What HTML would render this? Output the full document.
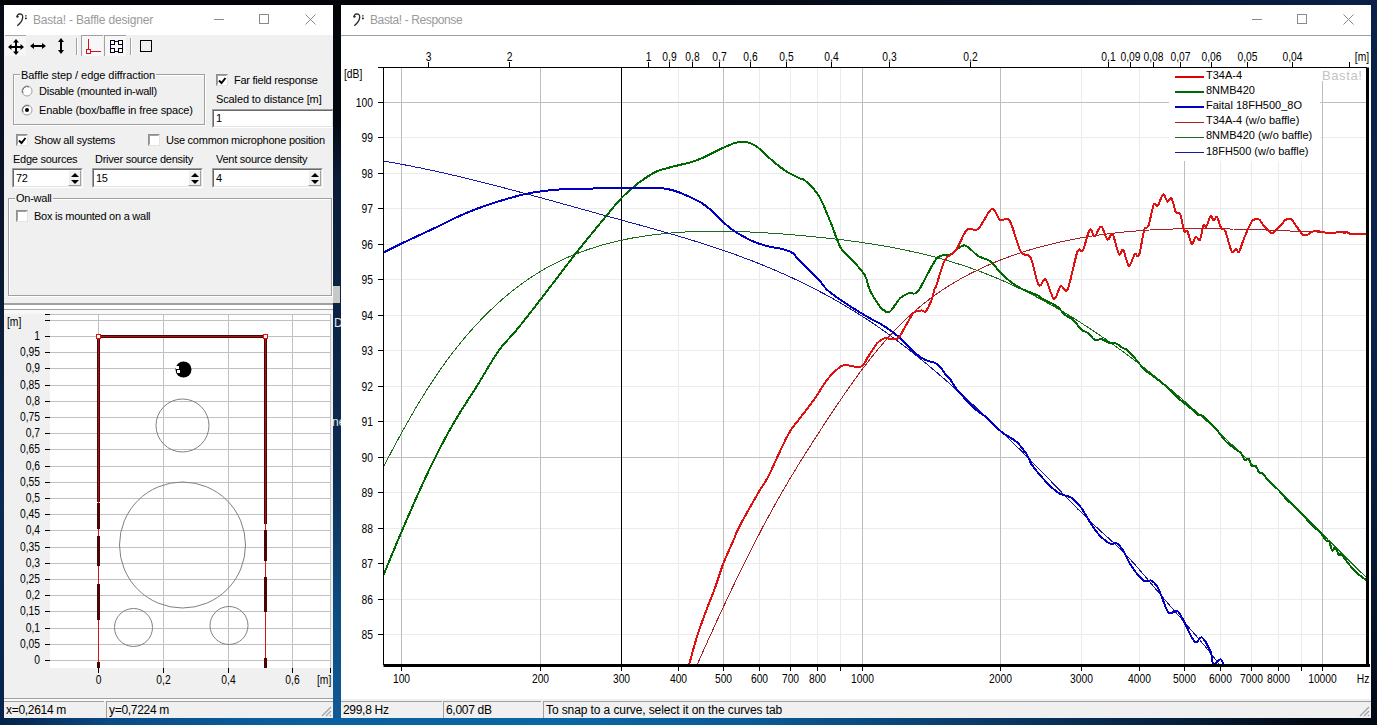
<!DOCTYPE html>
<html><head><meta charset="utf-8">
<style>
*{margin:0;padding:0;box-sizing:border-box}
html,body{width:1377px;height:725px;overflow:hidden}
body{position:relative;background:linear-gradient(90deg,#070b14 0%,#0a1a33 40%,#0b2f5c 100%);font-family:"Liberation Sans",sans-serif;font-size:11px;color:#000}
.a{position:absolute}
.t{position:absolute;white-space:nowrap;line-height:13px;letter-spacing:-0.25px}
.win{position:absolute;background:#f0f0f0}
.tb{position:absolute;background:#fff}
.ttl{position:absolute;white-space:nowrap;color:#9a9a9a;font-size:12px;line-height:14px}
.cb{position:absolute;width:12px;height:12px;background:#fff;border:1px solid #8e8f8f;border-right-color:#e3e3e3;border-bottom-color:#e3e3e3}
.cb::before{content:"";position:absolute;left:0;top:0;right:0;bottom:0;border:1px solid #696969;border-right-color:#fff;border-bottom-color:#fff;border-left-color:#a0a0a0;border-top-color:#a0a0a0}
.edit{position:absolute;background:#fff;border:1px solid #a0a0a0;border-right-color:#fff;border-bottom-color:#fff}
.edit::before{content:"";position:absolute;left:0;top:0;right:0;bottom:0;border:1px solid #696969;border-right-color:#e3e3e3;border-bottom-color:#e3e3e3}
.gb{position:absolute;border:1px solid #a0a0a0;box-shadow:1px 1px 0 #fff inset, 1px 1px 0 #fff}
.leg{position:absolute;background:#f0f0f0;padding:0 1px;white-space:nowrap;line-height:13px;letter-spacing:-0.25px}
.spin{position:absolute;width:13px;height:16px;background:#f0f0f0;border:1px solid #fdfdfd;border-right-color:#a0a0a0;border-bottom-color:#a0a0a0}.spin::before{content:"";position:absolute;left:2px;top:2px;border-left:4px solid transparent;border-right:4px solid transparent;border-bottom:4px solid #000}.spin::after{content:"";position:absolute;left:2px;top:9px;border-left:4px solid transparent;border-right:4px solid transparent;border-top:4px solid #000}
.sb{position:absolute;border-top:1px solid #a0a0a0;border-left:1px solid #a0a0a0;white-space:nowrap;line-height:15px;padding-left:2px;padding-top:1px;font-size:12px;letter-spacing:-0.3px}
</style></head><body>

<!-- DESKTOP -->
<div class="a" style="left:0;top:0;width:1377px;height:5px;background:linear-gradient(90deg,#020306 0%,#04060c 50%,#07142c 75%,#0a2048 100%)"></div>
<div class="a" style="left:0;top:5px;width:4px;height:720px;background:linear-gradient(180deg,#070b16 0%,#0a1a34 40%,#0c2a50 70%,#04244c 100%)"></div>
<div class="a" style="left:333px;top:5px;width:8px;height:713px;background:linear-gradient(180deg,#020408 0%,#04080f 16%,#0b1c38 24%,#0c2444 45%,#0c2c54 65%,#0e4c80 85%,#0f5a96 100%)"></div>
<div class="a" style="left:1371px;top:5px;width:6px;height:720px;background:linear-gradient(180deg,#0a2048 0%,#0a2450 40%,#061a36 75%,#010814 100%)"></div>
<div class="a" style="left:0;top:718px;width:1377px;height:7px;background:linear-gradient(90deg,#03224a 0%,#0a4a86 8%,#0a5e9e 20%,#0a66a6 40%,#0a5a96 55%,#0a3c6c 70%,#06203e 85%,#010814 95%,#000812 100%)"></div>
<div class="a" style="left:333px;top:286px;width:7px;height:17px;background:#c8c8c8"></div>
<div class="a" style="left:333px;top:314px;width:8px;height:125px;overflow:hidden;color:#e8e8e8;font-size:12px;line-height:14px"><div class="a" style="left:1px;top:2px">D_</div><div class="a" style="left:-1px;top:101px">ne</div></div>
<!-- /DESKTOP -->
<!-- LEFT WINDOW -->
<div class="win" style="left:4px;top:5px;width:329px;height:713px"></div>
<div class="tb" style="left:4px;top:5px;width:329px;height:30px"></div>
<svg class="a" style="left:14px;top:11px" width="14" height="16" viewBox="0 0 14 16"><path d="M3.3 6.2 Q2.8 3 5.8 2.9 Q8.9 3 8.7 6.4 Q8.4 10.5 3.3 14.8" fill="none" stroke="#2a2a2a" stroke-width="1.3"/><circle cx="3.5" cy="5.6" r="1.2" fill="#2a2a2a"/><rect x="11" y="4" width="1.6" height="1.6" fill="#666"/><rect x="11" y="6.6" width="1.8" height="1.6" fill="#222"/></svg>
<div class="ttl" style="left:33px;top:13px;letter-spacing:-0.19px">Basta! - Baffle designer</div>
<div class="a" style="left:214px;top:19px;width:10px;height:1px;background:#8a8a8a"></div>
<div class="a" style="left:259px;top:14px;width:10px;height:10px;border:1px solid #8a8a8a"></div>
<svg class="a" style="left:305px;top:14px" width="11" height="11"><path d="M0.5 0.5L10.5 10.5M10.5 0.5L0.5 10.5" stroke="#8a8a8a" stroke-width="1"/></svg>


<!-- toolbar -->
<div class="a" style="left:4px;top:35px;width:329px;height:22px;background:#f0f0f0"></div>
<div class="a" style="left:5px;top:35px;width:21px;height:21px;background:#f6f6f6;border-top:1px solid #a8a8a8"></div>
<svg class="a" style="left:7px;top:38px" width="18" height="18" viewBox="0 0 18 18"><path d="M9 3V15M3 9H15" stroke="#000" stroke-width="2"/><path d="M9 1L6 4.5H12ZM9 17L6 13.5H12ZM1 9L4.5 6V12ZM17 9L13.5 6V12Z" fill="#000"/></svg>
<svg class="a" style="left:29px;top:39px" width="18" height="14" viewBox="0 0 18 14"><path d="M3 7H15" stroke="#000" stroke-width="2"/><path d="M1 7L5 4V10ZM17 7L13 4V10Z" fill="#000"/></svg>
<svg class="a" style="left:55px;top:37px" width="12" height="18" viewBox="0 0 12 18"><path d="M6 3V15" stroke="#000" stroke-width="2"/><path d="M6 1L3 5H9ZM6 17L3 13H9Z" fill="#000"/></svg>
<div class="a" style="left:76px;top:38px;width:1px;height:17px;background:#a0a0a0"></div>
<div class="a" style="left:77px;top:38px;width:1px;height:17px;background:#fff"></div>
<div class="a" style="left:81px;top:35px;width:22px;height:21px;border-left:1px solid #a0a0a0;border-top:1px solid #a0a0a0;background:#f7f7f7"></div>
<svg class="a" style="left:84px;top:38px" width="18" height="18" viewBox="0 0 18 18" shape-rendering="crispEdges"><path d="M4.5 1V11M7 13.5H17" stroke="#d01020" stroke-width="1" fill="none"/><rect x="2.5" y="11.5" width="4" height="4" fill="none" stroke="#d01020" stroke-width="1"/></svg>
<div class="a" style="left:104px;top:35px;width:22px;height:21px;border-left:1px solid #a0a0a0;border-top:1px solid #a0a0a0;background:#f7f7f7"></div>
<svg class="a" style="left:110px;top:40px" width="13" height="13" viewBox="0 0 13 13" shape-rendering="crispEdges"><rect x="0.5" y="1.5" width="12" height="10" fill="none" stroke="#000080" stroke-width="1"/><g fill="#fff" stroke="#000" stroke-width="1"><rect x="0.5" y="0.5" width="4" height="4"/><rect x="8.5" y="0.5" width="4" height="4"/><rect x="0.5" y="8.5" width="4" height="4"/><rect x="8.5" y="8.5" width="4" height="4"/></g></svg>
<div class="a" style="left:130px;top:38px;width:1px;height:17px;background:#a0a0a0"></div>
<div class="a" style="left:131px;top:38px;width:1px;height:17px;background:#fff"></div>
<div class="a" style="left:140px;top:40px;width:12px;height:12px;border:1.3px solid #000"></div>

<!-- group baffle step -->
<div class="gb" style="left:13px;top:74px;width:192px;height:51px"></div>
<div class="leg" style="left:20px;top:69px;letter-spacing:-0.06px">Baffle step / edge diffraction</div>
<svg class="a" style="left:21px;top:85px" width="12" height="12"><circle cx="6" cy="6" r="5" fill="#fff" stroke="#a0a0a0"/><path d="M2 8A4.5 4.5 0 0 1 8 2" fill="none" stroke="#696969"/></svg>
<div class="t" style="left:39px;top:85px">Disable (mounted in-wall)</div>
<svg class="a" style="left:21px;top:104px" width="12" height="12"><circle cx="6" cy="6" r="5" fill="#fff" stroke="#a0a0a0"/><path d="M2 8A4.5 4.5 0 0 1 8 2" fill="none" stroke="#696969"/><circle cx="6" cy="6" r="2" fill="#000"/></svg>
<div class="t" style="left:39px;top:104px;letter-spacing:-0.13px">Enable (box/baffle in free space)</div>

<div class="cb" style="left:216px;top:74px"></div>
<svg class="a" style="left:218px;top:76px" width="9" height="9"><path d="M1 4.5L3.5 7L7.5 2" fill="none" stroke="#000" stroke-width="2"/></svg>
<div class="t" style="left:234px;top:74px">Far field response</div>
<div class="t" style="left:216px;top:93px;letter-spacing:-0.12px">Scaled to distance [m]</div>
<div class="edit" style="left:212px;top:109px;width:121px;height:19px;border-right:none"><span class="t" style="left:3px;top:2px">1</span></div>

<div class="cb" style="left:16px;top:134px"></div>
<svg class="a" style="left:18px;top:136px" width="9" height="9"><path d="M1 4.5L3.5 7L7.5 2" fill="none" stroke="#000" stroke-width="2"/></svg>
<div class="t" style="left:34px;top:134px">Show all systems</div>
<div class="cb" style="left:148px;top:134px"></div>
<div class="t" style="left:166px;top:134px">Use common microphone position</div>

<div class="t" style="left:13px;top:153px">Edge sources</div>
<div class="t" style="left:95px;top:153px">Driver source density</div>
<div class="t" style="left:216px;top:153px">Vent source density</div>

<div class="edit" style="left:12px;top:168px;width:71px;height:20px"><span class="t" style="left:3px;top:3px">72</span></div>
<div class="spin" style="left:68px;top:170px"></div>
<div class="edit" style="left:92px;top:168px;width:111px;height:20px"><span class="t" style="left:3px;top:3px">15</span></div>
<div class="spin" style="left:188px;top:170px"></div>
<div class="edit" style="left:212px;top:168px;width:111px;height:20px"><span class="t" style="left:3px;top:3px">4</span></div>
<div class="spin" style="left:308px;top:170px"></div>

<div class="gb" style="left:8px;top:198px;width:324px;height:98px"></div>
<div class="leg" style="left:15px;top:192px">On-wall</div>
<div class="cb" style="left:16px;top:210px"></div>
<div class="t" style="left:34px;top:210px">Box is mounted on a wall</div>

<!-- splitter -->
<div class="a" style="left:4px;top:303px;width:329px;height:2px;background:#a0a0a0"></div>
<div class="a" style="left:4px;top:305px;width:329px;height:4px;background:#fff"></div>
<div class="a" style="left:4px;top:309px;width:329px;height:1px;background:#a0a0a0"></div>

<!-- LEFTPLOT -->
<svg class="a" style="left:4px;top:310px" width="329" height="390" viewBox="4 310 329 390">
<rect x="4" y="310" width="329" height="390" fill="#f0f0f0"/>
<rect x="4" y="310" width="329" height="4" fill="#f8f8f8"/>
<rect x="50" y="314" width="281" height="354" fill="#fff"/>
<path d="M50 660.5H331M50 644.5H331M50 628.5H331M50 611.5H331M50 595.5H331M50 579.5H331M50 563.5H331M50 547.5H331M50 530.5H331M50 514.5H331M50 498.5H331M50 482.5H331M50 466.5H331M50 449.5H331M50 433.5H331M50 417.5H331M50 401.5H331M50 385.5H331M50 368.5H331M50 352.5H331M50 336.5H331M50 320.5H331M50 314.5H331M330.5 314V668M330.5 314V668M98.5 314V668M163.5 314V668M228.5 314V668M292.5 314V668" stroke="#c0c0c0" stroke-width="1" shape-rendering="crispEdges"/>
<path d="M45 660.5H50M45 644.5H50M45 628.5H50M45 611.5H50M45 595.5H50M45 579.5H50M45 563.5H50M45 547.5H50M45 530.5H50M45 514.5H50M45 498.5H50M45 482.5H50M45 466.5H50M45 449.5H50M45 433.5H50M45 417.5H50M45 401.5H50M45 385.5H50M45 368.5H50M45 352.5H50M45 336.5H50M45 320.5H50M45 314.5H50M98.5 668V673M163.5 668V673M228.5 668V673M292.5 668V673M330.5 668V673" stroke="#000" stroke-width="1" shape-rendering="crispEdges"/>
<g font-family="Liberation Sans" font-size="12" fill="#000"><text transform="translate(40 664) scale(0.86 1)" text-anchor="end">0</text><text transform="translate(40 648) scale(0.86 1)" text-anchor="end">0,05</text><text transform="translate(40 632) scale(0.86 1)" text-anchor="end">0,1</text><text transform="translate(40 615) scale(0.86 1)" text-anchor="end">0,15</text><text transform="translate(40 599) scale(0.86 1)" text-anchor="end">0,2</text><text transform="translate(40 583) scale(0.86 1)" text-anchor="end">0,25</text><text transform="translate(40 567) scale(0.86 1)" text-anchor="end">0,3</text><text transform="translate(40 551) scale(0.86 1)" text-anchor="end">0,35</text><text transform="translate(40 534) scale(0.86 1)" text-anchor="end">0,4</text><text transform="translate(40 518) scale(0.86 1)" text-anchor="end">0,45</text><text transform="translate(40 502) scale(0.86 1)" text-anchor="end">0,5</text><text transform="translate(40 486) scale(0.86 1)" text-anchor="end">0,55</text><text transform="translate(40 470) scale(0.86 1)" text-anchor="end">0,6</text><text transform="translate(40 453) scale(0.86 1)" text-anchor="end">0,65</text><text transform="translate(40 437) scale(0.86 1)" text-anchor="end">0,7</text><text transform="translate(40 421) scale(0.86 1)" text-anchor="end">0,75</text><text transform="translate(40 405) scale(0.86 1)" text-anchor="end">0,8</text><text transform="translate(40 389) scale(0.86 1)" text-anchor="end">0,85</text><text transform="translate(40 372) scale(0.86 1)" text-anchor="end">0,9</text><text transform="translate(40 356) scale(0.86 1)" text-anchor="end">0,95</text><text transform="translate(40 340) scale(0.86 1)" text-anchor="end">1</text><text transform="translate(98.5 684) scale(0.86 1)" text-anchor="middle">0</text><text transform="translate(163.5 684) scale(0.86 1)" text-anchor="middle">0,2</text><text transform="translate(228.5 684) scale(0.86 1)" text-anchor="middle">0,4</text><text transform="translate(292.5 684) scale(0.86 1)" text-anchor="middle">0,6</text><text transform="translate(7 326) scale(0.86 1)">[m]</text><text transform="translate(317 684) scale(0.86 1)">[m]</text></g>
<g fill="none" stroke="#808080" stroke-width="1"><circle cx="182.5" cy="425.5" r="26.5"/><circle cx="182.5" cy="545" r="63"/><circle cx="133.5" cy="627.5" r="19"/><circle cx="229" cy="625.5" r="19"/></g>
<circle cx="183.5" cy="369.5" r="8" fill="#000"/><rect x="176" y="366" width="3" height="3" fill="#fff"/><rect x="177" y="370" width="3" height="3" fill="#fff"/>
<path d="M98.5 336.5H265.5M98.5 336.5V668M265.5 336.5V668" stroke="#d01818" stroke-width="1" fill="none" shape-rendering="crispEdges"/>
<path d="M98.5 336V502M98.5 503V529M98.5 536V566M98.5 584V620M98.5 662V668M265.5 336V524M265.5 530V561M265.5 577V612M265.5 658V668M98 336.5H266" stroke="#4a0404" stroke-width="3" fill="none" shape-rendering="crispEdges"/>
<path d="M98.5 336.5H265.5M98.5 336.5V502M265.5 336.5V524" stroke="#b01010" stroke-width="1" fill="none" shape-rendering="crispEdges"/>
<rect x="96.5" y="334.5" width="4" height="4" fill="#fff" stroke="#e01010" stroke-width="1" shape-rendering="crispEdges"/><rect x="263.5" y="334.5" width="4" height="4" fill="#fff" stroke="#e01010" stroke-width="1" shape-rendering="crispEdges"/>
</svg>
<!-- /LEFTPLOT -->
<!-- status left -->
<div class="a" style="left:4px;top:698px;width:329px;height:1px;background:#a0a0a0"></div><div class="a" style="left:4px;top:699px;width:329px;height:2px;background:#fafafa"></div><div class="sb" style="left:4px;top:701px;width:100px;height:17px;border-left:none">x=0,2614 m</div>
<div class="sb" style="left:106px;top:701px;width:227px;height:17px">y=0,7224 m</div><svg class="a" style="left:320px;top:705px" width="12" height="12"><path d="M11 2L2 11M11 6L6 11M11 10L10 11" stroke="#a0a0a0" stroke-width="1.2"/></svg>


<!-- RIGHT WINDOW -->
<div class="win" style="left:341px;top:5px;width:1030px;height:713px"></div>
<div class="tb" style="left:341px;top:5px;width:1030px;height:30px"></div>
<div class="a" style="left:341px;top:35px;width:1030px;height:1px;background:#a0a0a0"></div>
<svg class="a" style="left:351px;top:11px" width="14" height="16" viewBox="0 0 14 16"><path d="M3.3 6.2 Q2.8 3 5.8 2.9 Q8.9 3 8.7 6.4 Q8.4 10.5 3.3 14.8" fill="none" stroke="#2a2a2a" stroke-width="1.3"/><circle cx="3.5" cy="5.6" r="1.2" fill="#2a2a2a"/><rect x="11" y="4" width="1.6" height="1.6" fill="#666"/><rect x="11" y="6.6" width="1.8" height="1.6" fill="#222"/></svg>
<div class="ttl" style="left:370px;top:13px;letter-spacing:-0.38px">Basta! - Response</div>
<div class="a" style="left:1252px;top:19px;width:10px;height:1px;background:#8a8a8a"></div>
<div class="a" style="left:1297px;top:14px;width:10px;height:10px;border:1px solid #8a8a8a"></div>
<svg class="a" style="left:1343px;top:14px" width="11" height="11"><path d="M0.5 0.5L10.5 10.5M10.5 0.5L0.5 10.5" stroke="#8a8a8a" stroke-width="1"/></svg>
<div class="sb" style="left:341px;top:701px;width:101px;height:17px;border-left:none">299,8 Hz</div>
<div class="sb" style="left:443px;top:701px;width:98px;height:17px">6,007 dB</div>
<div class="sb" style="left:543px;top:701px;width:828px;height:17px;letter-spacing:-0.1px">To snap to a curve, select it on the curves tab</div><svg class="a" style="left:1358px;top:705px" width="12" height="12"><path d="M11 2L2 11M11 6L6 11M11 10L10 11" stroke="#a0a0a0" stroke-width="1.2"/></svg>

<!-- RIGHTPLOT -->
<svg class="a" style="left:341px;top:36px" width="1030" height="663" viewBox="341 36 1030 663">
<rect x="341" y="36" width="1030" height="663" fill="#fff"/>
<path d="M621.5 67.5V665M678.5 67.5V665M759.5 67.5V665M790.5 67.5V665M817.5 67.5V665M840.5 67.5V665M1081.5 67.5V665M1139.5 67.5V665M1220.5 67.5V665M1251.5 67.5V665M1278.5 67.5V665M1301.5 67.5V665M383.5 137.5H1367M383.5 173.5H1367M383.5 208.5H1367M383.5 244.5H1367M383.5 279.5H1367M383.5 315.5H1367M383.5 350.5H1367M383.5 386.5H1367M383.5 421.5H1367M383.5 492.5H1367M383.5 528.5H1367M383.5 563.5H1367M383.5 599.5H1367M383.5 634.5H1367" stroke="#ebebeb" stroke-width="1" shape-rendering="crispEdges"/>
<path d="M401.5 67.5V665M540.5 67.5V665M723.5 67.5V665M862.5 67.5V665M1000.5 67.5V665M1184.5 67.5V665M1322.5 67.5V665M383.5 102.5H1367M383.5 457.5H1367" stroke="#bdbdbd" stroke-width="1" shape-rendering="crispEdges"/>
<path d="M378 634.5H383.5M378 599.5H383.5M378 563.5H383.5M378 528.5H383.5M378 492.5H383.5M378 457.5H383.5M378 421.5H383.5M378 386.5H383.5M378 350.5H383.5M378 315.5H383.5M378 279.5H383.5M378 244.5H383.5M378 208.5H383.5M378 173.5H383.5M378 137.5H383.5M378 102.5H383.5M401.5 665V671M540.5 665V671M621.5 665V671M678.5 665V671M723.5 665V671M759.5 665V671M790.5 665V671M817.5 665V671M840.5 665V671M862.5 665V671M1000.5 665V671M1081.5 665V671M1139.5 665V671M1184.5 665V671M1220.5 665V671M1251.5 665V671M1278.5 665V671M1301.5 665V671M1322.5 665V671M428.5 67.5V62M509.5 67.5V62M648.5 67.5V62M669.5 67.5V62M692.5 67.5V62M719.5 67.5V62M750.5 67.5V62M786.5 67.5V62M831.5 67.5V62M889.5 67.5V62M970.5 67.5V62M1108.5 67.5V62M1130.5 67.5V62M1153.5 67.5V62M1180.5 67.5V62M1211.5 67.5V62M1247.5 67.5V62M1292.5 67.5V62M1349.5 67.5V62" stroke="#000" stroke-width="1" shape-rendering="crispEdges"/>
<g font-family="Liberation Sans" font-size="12" fill="#000"><text transform="translate(373 638.5) scale(0.86 1)" text-anchor="end">85</text><text transform="translate(373 603.5) scale(0.86 1)" text-anchor="end">86</text><text transform="translate(373 567.5) scale(0.86 1)" text-anchor="end">87</text><text transform="translate(373 532.5) scale(0.86 1)" text-anchor="end">88</text><text transform="translate(373 496.5) scale(0.86 1)" text-anchor="end">89</text><text transform="translate(373 461.5) scale(0.86 1)" text-anchor="end">90</text><text transform="translate(373 425.5) scale(0.86 1)" text-anchor="end">91</text><text transform="translate(373 390.5) scale(0.86 1)" text-anchor="end">92</text><text transform="translate(373 354.5) scale(0.86 1)" text-anchor="end">93</text><text transform="translate(373 319.5) scale(0.86 1)" text-anchor="end">94</text><text transform="translate(373 283.5) scale(0.86 1)" text-anchor="end">95</text><text transform="translate(373 248.5) scale(0.86 1)" text-anchor="end">96</text><text transform="translate(373 212.5) scale(0.86 1)" text-anchor="end">97</text><text transform="translate(373 177.5) scale(0.86 1)" text-anchor="end">98</text><text transform="translate(373 141.5) scale(0.86 1)" text-anchor="end">99</text><text transform="translate(373 106.5) scale(0.86 1)" text-anchor="end">100</text><text transform="translate(401.5 683) scale(0.86 1)" text-anchor="middle">100</text><text transform="translate(540.5 683) scale(0.86 1)" text-anchor="middle">200</text><text transform="translate(621.5 683) scale(0.86 1)" text-anchor="middle">300</text><text transform="translate(678.5 683) scale(0.86 1)" text-anchor="middle">400</text><text transform="translate(723.5 683) scale(0.86 1)" text-anchor="middle">500</text><text transform="translate(759.5 683) scale(0.86 1)" text-anchor="middle">600</text><text transform="translate(790.5 683) scale(0.86 1)" text-anchor="middle">700</text><text transform="translate(817.5 683) scale(0.86 1)" text-anchor="middle">800</text><text transform="translate(862.5 683) scale(0.86 1)" text-anchor="middle">1000</text><text transform="translate(1000.5 683) scale(0.86 1)" text-anchor="middle">2000</text><text transform="translate(1081.5 683) scale(0.86 1)" text-anchor="middle">3000</text><text transform="translate(1139.5 683) scale(0.86 1)" text-anchor="middle">4000</text><text transform="translate(1184.5 683) scale(0.86 1)" text-anchor="middle">5000</text><text transform="translate(1220.5 683) scale(0.86 1)" text-anchor="middle">6000</text><text transform="translate(1251.5 683) scale(0.86 1)" text-anchor="middle">7000</text><text transform="translate(1278.5 683) scale(0.86 1)" text-anchor="middle">8000</text><text transform="translate(1322.5 683) scale(0.86 1)" text-anchor="middle">10000</text><text transform="translate(1363 683) scale(0.86 1)" text-anchor="middle">Hz</text><text transform="translate(428.5 60.5) scale(0.86 1)" text-anchor="middle">3</text><text transform="translate(509.5 60.5) scale(0.86 1)" text-anchor="middle">2</text><text transform="translate(648.5 60.5) scale(0.86 1)" text-anchor="middle">1</text><text transform="translate(669.5 60.5) scale(0.86 1)" text-anchor="middle">0,9</text><text transform="translate(692.5 60.5) scale(0.86 1)" text-anchor="middle">0,8</text><text transform="translate(719.5 60.5) scale(0.86 1)" text-anchor="middle">0,7</text><text transform="translate(750.5 60.5) scale(0.86 1)" text-anchor="middle">0,6</text><text transform="translate(786.5 60.5) scale(0.86 1)" text-anchor="middle">0,5</text><text transform="translate(831.5 60.5) scale(0.86 1)" text-anchor="middle">0,4</text><text transform="translate(889.5 60.5) scale(0.86 1)" text-anchor="middle">0,3</text><text transform="translate(970.5 60.5) scale(0.86 1)" text-anchor="middle">0,2</text><text transform="translate(1108.5 60.5) scale(0.86 1)" text-anchor="middle">0,1</text><text transform="translate(1130.5 60.5) scale(0.86 1)" text-anchor="middle">0,09</text><text transform="translate(1153.5 60.5) scale(0.86 1)" text-anchor="middle">0,08</text><text transform="translate(1180.5 60.5) scale(0.86 1)" text-anchor="middle">0,07</text><text transform="translate(1211.5 60.5) scale(0.86 1)" text-anchor="middle">0,06</text><text transform="translate(1247.5 60.5) scale(0.86 1)" text-anchor="middle">0,05</text><text transform="translate(1292.5 60.5) scale(0.86 1)" text-anchor="middle">0,04</text><text transform="translate(1362 60.5) scale(0.86 1)" text-anchor="middle">[m]</text><text transform="translate(344 78) scale(0.86 1)" text-anchor="start">[dB]</text></g>
<path d="M621.5 67.5V665" stroke="#000" stroke-width="1" shape-rendering="crispEdges"/>
<clipPath id="pc"><rect x="383.5" y="67.5" width="983.5" height="597.5"/></clipPath>
<g clip-path="url(#pc)" fill="none" stroke-linejoin="round" stroke-linecap="round" shape-rendering="crispEdges">
<path d="M383.8 466.2L385.6 462.7L387.4 459.3L389.2 455.9L391.1 452.4L392.9 448.9L394.8 445.5L396.6 442.0L398.5 438.5L400.4 435.0L402.3 431.6L404.3 428.1L406.2 424.6L408.2 421.1L410.2 417.7L412.2 414.2L414.2 410.7L416.2 407.3L418.3 403.8L420.4 400.4L422.5 396.9L424.6 393.5L426.7 390.1L428.9 386.7L431.1 383.3L433.4 379.9L435.6 376.5L437.9 373.1L440.2 369.8L442.6 366.4L444.9 363.1L447.3 359.8L449.8 356.6L452.2 353.3L454.7 350.1L457.3 346.8L459.9 343.6L462.5 340.5L465.1 337.3L467.8 334.2L470.5 331.1L473.2 328.0L476.0 325.0L478.8 322.0L481.6 319.0L484.5 316.1L487.4 313.2L490.3 310.4L493.3 307.5L496.3 304.8L499.3 302.0L502.3 299.3L505.4 296.7L508.5 294.1L511.7 291.5L514.8 289.1L518.0 286.6L521.2 284.2L524.5 281.9L527.8 279.6L531.1 277.3L534.4 275.2L537.8 273.1L541.2 271.0L544.6 269.0L548.0 267.1L551.5 265.2L555.0 263.4L558.5 261.7L562.0 260.0L565.6 258.3L569.1 256.8L572.7 255.3L576.4 253.8L580.0 252.4L583.7 251.0L587.4 249.7L591.1 248.5L594.8 247.3L598.6 246.1L602.3 245.0L606.1 244.0L609.9 243.0L613.7 242.0L617.6 241.1L621.4 240.3L625.3 239.4L629.2 238.7L633.0 237.9L637.0 237.3L640.9 236.6L644.8 236.0L648.8 235.4L652.7 234.9L656.7 234.4L660.7 234.0L664.7 233.6L668.7 233.2L672.7 232.8L676.7 232.5L680.7 232.3L684.8 232.0L688.8 231.8L692.9 231.6L696.9 231.5L701.0 231.4L705.1 231.3L709.1 231.2L713.2 231.2L717.3 231.2L721.4 231.2L725.5 231.3L729.6 231.3L733.7 231.4L737.8 231.5L741.9 231.7L746.0 231.8L750.1 232.0L754.2 232.2L758.3 232.4L762.4 232.6L766.5 232.9L770.6 233.2L774.7 233.4L778.8 233.7L782.8 234.0L786.9 234.4L791.0 234.7L795.1 235.0L799.1 235.4L803.2 235.8L807.3 236.1L811.3 236.5L815.3 236.9L819.4 237.3L823.4 237.7L827.4 238.2L831.4 238.6L835.5 239.1L839.5 239.5L843.5 240.0L847.4 240.5L851.4 241.0L855.4 241.6L859.4 242.1L863.3 242.7L867.3 243.3L871.2 243.9L875.2 244.5L879.1 245.2L883.0 245.8L887.0 246.5L890.9 247.2L894.8 248.0L898.7 248.7L902.6 249.5L906.5 250.3L910.3 251.2L914.2 252.0L918.1 252.9L921.9 253.8L925.8 254.7L929.6 255.7L933.4 256.7L937.3 257.7L941.1 258.8L944.9 259.8L948.7 260.9L952.5 262.1L956.3 263.3L960.1 264.5L963.8 265.7L967.6 267.0L971.4 268.3L975.1 269.6L978.9 271.0L982.6 272.4L986.3 273.9L990.0 275.4L993.7 276.9L997.4 278.4L1001.1 280.0L1004.8 281.6L1008.5 283.3L1012.1 284.9L1015.8 286.6L1019.4 288.4L1023.1 290.1L1026.7 291.9L1030.3 293.8L1033.9 295.6L1037.5 297.5L1041.0 299.4L1044.6 301.3L1048.1 303.3L1051.7 305.2L1055.2 307.2L1058.7 309.3L1062.2 311.3L1065.7 313.4L1069.1 315.4L1072.6 317.5L1076.0 319.7L1079.4 321.8L1082.8 324.0L1086.2 326.2L1089.6 328.4L1092.9 330.6L1096.3 332.8L1099.6 335.1L1102.9 337.4L1106.3 339.6L1109.5 342.0L1112.8 344.3L1116.1 346.6L1119.3 349.0L1122.6 351.3L1125.8 353.7L1129.0 356.1L1132.2 358.6L1135.4 361.0L1138.6 363.4L1141.8 365.9L1144.9 368.4L1148.1 370.9L1151.2 373.4L1154.3 375.9L1157.5 378.4L1160.6 381.0L1163.7 383.5L1166.7 386.1L1169.8 388.7L1172.9 391.3L1175.9 393.9L1179.0 396.5L1182.0 399.1L1185.1 401.8L1188.1 404.4L1191.1 407.1L1194.1 409.7L1197.1 412.4L1200.1 415.1L1203.1 417.8L1206.1 420.5L1209.0 423.2L1212.0 425.9L1214.9 428.7L1217.9 431.4L1220.8 434.1L1223.8 436.9L1226.7 439.7L1229.6 442.4L1232.5 445.2L1235.5 448.0L1238.4 450.8L1241.3 453.5L1244.2 456.3L1247.1 459.1L1249.9 461.9L1252.8 464.8L1255.7 467.6L1258.6 470.4L1261.5 473.2L1264.3 476.0L1267.2 478.9L1270.1 481.7L1272.9 484.5L1275.8 487.4L1278.6 490.2L1281.5 493.1L1284.3 495.9L1287.2 498.8L1290.0 501.6L1292.9 504.5L1295.7 507.3L1298.5 510.2L1301.4 513.0L1304.2 515.9L1307.1 518.7L1309.9 521.6L1312.7 524.4L1315.6 527.2L1318.4 530.1L1321.3 532.9L1324.1 535.8L1326.9 538.6L1329.8 541.5L1332.6 544.3L1335.5 547.1L1338.3 549.9L1341.1 552.8L1344.0 555.6L1346.8 558.4L1349.7 561.2L1352.5 564.0L1355.4 566.8L1358.3 569.6L1361.1 572.4L1364.0 575.2L1366.9 578.0" stroke="#1c6c1c" stroke-width="1"/>
<path d="M383.5 161.0L386.9 161.6L390.3 162.2L393.6 162.8L397.0 163.4L400.4 164.1L403.8 164.7L407.2 165.3L410.6 166.0L413.9 166.7L417.3 167.4L420.7 168.0L424.0 168.7L427.4 169.5L430.7 170.2L434.1 170.9L437.5 171.6L440.8 172.4L444.2 173.1L447.5 173.9L450.8 174.7L454.2 175.4L457.5 176.2L460.9 177.0L464.2 177.8L467.5 178.6L470.9 179.4L474.2 180.3L477.5 181.1L480.8 181.9L484.2 182.7L487.5 183.6L490.8 184.4L494.1 185.3L497.4 186.2L500.8 187.0L504.1 187.9L507.4 188.8L510.7 189.6L514.0 190.5L517.3 191.4L520.6 192.3L523.9 193.2L527.3 194.1L530.6 195.0L533.9 195.9L537.2 196.8L540.5 197.7L543.8 198.6L547.1 199.5L550.4 200.4L553.7 201.3L557.0 202.3L560.3 203.2L563.6 204.1L566.9 205.0L570.2 205.9L573.5 206.8L576.9 207.8L580.2 208.7L583.5 209.6L586.8 210.5L590.1 211.4L593.4 212.4L596.7 213.3L600.0 214.2L603.3 215.1L606.6 216.0L609.9 216.9L613.3 217.8L616.6 218.7L619.9 219.6L623.2 220.6L626.5 221.5L629.8 222.4L633.1 223.3L636.5 224.2L639.8 225.1L643.1 226.0L646.4 226.9L649.7 227.9L653.0 228.8L656.3 229.7L659.6 230.7L662.9 231.6L666.2 232.5L669.5 233.5L672.8 234.5L676.1 235.4L679.4 236.4L682.7 237.4L686.0 238.4L689.3 239.4L692.5 240.4L695.8 241.4L699.1 242.4L702.3 243.5L705.6 244.5L708.9 245.6L712.1 246.6L715.4 247.7L718.6 248.8L721.9 249.9L725.1 251.0L728.3 252.2L731.6 253.3L734.8 254.4L738.0 255.6L741.2 256.8L744.4 258.0L747.6 259.2L750.8 260.4L754.0 261.6L757.2 262.9L760.4 264.2L763.6 265.4L766.7 266.7L769.9 268.1L773.0 269.4L776.2 270.7L779.3 272.1L782.5 273.5L785.6 274.9L788.7 276.3L791.9 277.7L795.0 279.2L798.1 280.7L801.2 282.1L804.3 283.6L807.4 285.2L810.4 286.7L813.5 288.3L816.6 289.9L819.6 291.5L822.7 293.1L825.7 294.7L828.7 296.3L831.7 298.0L834.7 299.7L837.7 301.4L840.7 303.1L843.7 304.9L846.6 306.6L849.6 308.4L852.5 310.2L855.4 312.0L858.3 313.8L861.2 315.6L864.1 317.5L867.0 319.4L869.9 321.3L872.7 323.2L875.5 325.1L878.4 327.1L881.2 329.0L884.0 331.0L886.8 333.0L889.5 335.0L892.3 337.0L895.0 339.1L897.8 341.1L900.5 343.2L903.2 345.2L905.9 347.3L908.6 349.4L911.3 351.6L914.0 353.7L916.7 355.8L919.3 358.0L922.0 360.1L924.6 362.3L927.3 364.5L929.9 366.7L932.5 368.9L935.1 371.1L937.7 373.3L940.3 375.6L942.9 377.8L945.5 380.0L948.1 382.3L950.7 384.6L953.2 386.8L955.8 389.1L958.4 391.4L960.9 393.7L963.5 396.0L966.0 398.3L968.5 400.6L971.1 402.9L973.6 405.2L976.1 407.5L978.6 409.9L981.2 412.2L983.7 414.6L986.2 416.9L988.7 419.3L991.2 421.6L993.6 424.0L996.1 426.4L998.6 428.8L1001.1 431.1L1003.5 433.5L1006.0 435.9L1008.5 438.3L1010.9 440.7L1013.4 443.1L1015.8 445.6L1018.3 448.0L1020.7 450.4L1023.1 452.8L1025.5 455.3L1028.0 457.7L1030.4 460.1L1032.8 462.6L1035.2 465.0L1037.6 467.5L1040.0 469.9L1042.4 472.4L1044.8 474.9L1047.2 477.3L1049.6 479.8L1052.0 482.3L1054.3 484.7L1056.7 487.2L1059.1 489.7L1061.5 492.2L1063.8 494.6L1066.2 497.1L1068.6 499.6L1071.0 502.0L1073.4 504.5L1075.8 506.9L1078.1 509.4L1080.6 511.8L1083.0 514.2L1085.4 516.6L1087.8 519.0L1090.3 521.3L1092.7 523.7L1095.2 526.0L1097.7 528.3L1100.1 530.6L1102.7 532.9L1105.2 535.2L1107.7 537.4L1110.2 539.7L1112.7 541.9L1115.2 544.2L1117.7 546.5L1120.1 548.9L1122.5 551.2L1124.9 553.7L1127.2 556.1L1129.5 558.6L1131.8 561.1L1134.1 563.6L1136.3 566.1L1138.6 568.7L1140.8 571.3L1143.0 573.9L1145.2 576.5L1147.4 579.1L1149.6 581.7L1151.8 584.3L1154.0 587.0L1156.2 589.6L1158.5 592.2L1160.7 594.9L1162.9 597.5L1165.1 600.1L1167.4 602.7L1169.6 605.3L1171.9 607.9L1174.1 610.5L1176.4 613.1L1178.7 615.7L1181.0 618.3L1183.2 620.9L1185.5 623.5L1187.8 626.1L1190.0 628.7L1192.3 631.3L1194.5 633.9L1196.8 636.5L1199.0 639.1L1201.2 641.7L1203.4 644.4L1205.6 647.0L1207.7 649.7L1209.9 652.3L1212.0 655.0L1214.1 657.7L1216.2 660.4L1218.3 663.2L1220.3 665.9L1222.4 668.7L1224.3 671.4L1226.3 674.2L1228.2 677.0L1230.1 679.9" stroke="#1818a0" stroke-width="1"/>
<path d="M696.3 666.6L697.5 663.9L698.7 661.2L699.9 658.6L701.1 655.9L702.3 653.2L703.5 650.5L704.7 647.8L705.9 645.1L707.1 642.4L708.3 639.7L709.5 637.1L710.8 634.4L712.0 631.7L713.2 629.0L714.5 626.3L715.7 623.6L716.9 620.8L718.2 618.1L719.4 615.4L720.7 612.7L721.9 610.0L723.2 607.3L724.5 604.6L725.7 601.9L727.0 599.2L728.3 596.5L729.6 593.8L730.8 591.1L732.1 588.4L733.4 585.7L734.7 583.0L736.0 580.3L737.3 577.6L738.6 574.9L739.9 572.2L741.2 569.5L742.6 566.8L743.9 564.1L745.2 561.4L746.5 558.8L747.9 556.1L749.2 553.4L750.6 550.7L751.9 548.1L753.3 545.4L754.6 542.7L756.0 540.1L757.4 537.4L758.8 534.8L760.2 532.1L761.5 529.5L762.9 526.8L764.3 524.2L765.7 521.6L767.2 519.0L768.6 516.3L770.0 513.7L771.4 511.1L772.9 508.5L774.3 505.9L775.7 503.3L777.2 500.8L778.6 498.2L780.1 495.6L781.6 493.0L783.1 490.5L784.5 487.9L786.0 485.4L787.5 482.9L789.0 480.3L790.5 477.8L792.0 475.3L793.6 472.8L795.1 470.3L796.6 467.7L798.1 465.2L799.7 462.7L801.2 460.2L802.8 457.7L804.4 455.3L805.9 452.8L807.5 450.3L809.1 447.8L810.7 445.3L812.2 442.8L813.8 440.3L815.4 437.8L817.1 435.3L818.7 432.9L820.3 430.4L821.9 427.9L823.5 425.4L825.2 422.9L826.8 420.4L828.5 417.9L830.1 415.4L831.8 412.9L833.4 410.4L835.1 407.9L836.8 405.4L838.5 402.9L840.2 400.4L841.9 397.9L843.6 395.4L845.3 392.9L847.0 390.4L848.8 387.9L850.5 385.4L852.3 383.0L854.0 380.5L855.8 378.0L857.6 375.6L859.4 373.1L861.2 370.7L863.0 368.3L864.9 365.9L866.7 363.5L868.6 361.1L870.4 358.7L872.3 356.3L874.2 354.0L876.1 351.6L878.0 349.3L880.0 347.0L881.9 344.7L883.9 342.4L885.9 340.2L887.9 337.9L889.9 335.7L891.9 333.5L894.0 331.3L896.0 329.1L898.1 327.0L900.2 324.9L902.3 322.8L904.4 320.7L906.6 318.6L908.7 316.6L910.9 314.6L913.1 312.6L915.3 310.7L917.6 308.7L919.8 306.8L922.1 305.0L924.4 303.1L926.7 301.3L929.0 299.5L931.4 297.7L933.8 296.0L936.2 294.3L938.6 292.6L941.0 290.9L943.4 289.3L945.9 287.7L948.4 286.1L950.9 284.6L953.4 283.1L955.9 281.6L958.5 280.1L961.0 278.6L963.6 277.2L966.2 275.8L968.8 274.4L971.4 273.1L974.0 271.8L976.7 270.5L979.3 269.2L982.0 267.9L984.7 266.7L987.4 265.5L990.1 264.3L992.8 263.2L995.5 262.0L998.3 260.9L1001.0 259.8L1003.8 258.8L1006.6 257.7L1009.4 256.7L1012.2 255.7L1015.0 254.7L1017.8 253.7L1020.6 252.8L1023.5 251.9L1026.3 251.0L1029.1 250.1L1032.0 249.3L1034.9 248.4L1037.7 247.6L1040.6 246.8L1043.5 246.1L1046.4 245.3L1049.3 244.6L1052.2 243.9L1055.1 243.2L1058.0 242.5L1061.0 241.8L1063.9 241.2L1066.8 240.6L1069.8 240.0L1072.7 239.4L1075.6 238.8L1078.6 238.3L1081.5 237.8L1084.5 237.3L1087.4 236.8L1090.4 236.3L1093.4 235.8L1096.3 235.4L1099.3 235.0L1102.2 234.5L1105.2 234.2L1108.2 233.8L1111.1 233.4L1114.1 233.1L1117.1 232.7L1120.0 232.4L1123.0 232.1L1126.0 231.8L1128.9 231.6L1131.9 231.3L1134.9 231.1L1137.8 230.8L1140.8 230.6L1143.8 230.4L1146.7 230.2L1149.7 230.0L1152.7 229.9L1155.7 229.7L1158.6 229.6L1161.6 229.4L1164.6 229.3L1167.6 229.2L1170.5 229.1L1173.5 229.0L1176.5 228.9L1179.5 228.9L1182.4 228.8L1185.4 228.8L1188.4 228.7L1191.4 228.7L1194.4 228.7L1197.3 228.6L1200.3 228.6L1203.3 228.6L1206.3 228.6L1209.3 228.7L1212.2 228.7L1215.2 228.7L1218.2 228.7L1221.2 228.8L1224.2 228.8L1227.1 228.9L1230.1 229.0L1233.1 229.0L1236.1 229.1L1239.1 229.2L1242.0 229.3L1245.0 229.3L1248.0 229.4L1251.0 229.5L1254.0 229.6L1256.9 229.7L1259.9 229.8L1262.9 229.9L1265.9 230.0L1268.9 230.1L1271.8 230.3L1274.8 230.4L1277.8 230.5L1280.8 230.6L1283.8 230.7L1286.7 230.8L1289.7 231.0L1292.7 231.1L1295.7 231.2L1298.6 231.3L1301.6 231.5L1304.6 231.6L1307.6 231.7L1310.5 231.8L1313.5 231.9L1316.5 232.0L1319.5 232.2L1322.4 232.3L1325.4 232.4L1328.4 232.5L1331.4 232.6L1334.3 232.7L1337.3 232.8L1340.3 232.9L1343.2 233.0L1346.2 233.0L1349.2 233.1L1352.1 233.2L1355.1 233.3L1358.1 233.3L1361.0 233.4L1364.0 233.4L1367.0 233.5" stroke="#a82020" stroke-width="1"/>
<path d="M383.5 575.0C386.4 568.0 395.2 546.5 401.1 532.8C407.0 519.1 412.9 505.4 418.6 492.8C424.3 480.2 429.2 469.4 435.2 457.5C441.2 445.6 447.6 433.4 454.5 421.6C461.4 409.8 469.2 398.4 476.6 386.6C484.0 374.8 492.0 360.1 498.7 350.7C505.4 341.3 509.7 338.4 516.6 330.0C523.5 321.6 530.2 312.9 540.1 300.1C550.0 287.3 565.0 267.2 576.0 253.2C587.0 239.2 598.7 225.1 606.3 215.9C613.9 206.7 616.5 203.2 621.5 198.0C626.5 192.8 633.5 187.2 636.6 184.5C639.7 181.8 637.9 183.5 640.0 182.0C642.1 180.5 646.0 177.5 649.0 175.7C652.0 173.8 654.6 172.2 657.9 170.9C661.2 169.6 665.1 168.7 668.7 167.7C672.3 166.7 675.6 166.0 679.5 165.0C683.4 164.0 688.1 163.1 692.0 161.9C695.9 160.7 698.9 159.5 702.8 157.8C706.7 156.1 711.4 153.4 715.3 151.5C719.2 149.6 722.8 147.9 726.1 146.5C729.4 145.1 732.1 143.7 735.1 142.9C738.1 142.2 741.3 141.9 744.0 142.0C746.7 142.1 748.8 142.5 751.2 143.5C753.6 144.5 755.4 145.5 758.4 147.9C761.4 150.3 765.5 154.7 769.1 157.8C772.7 161.0 776.6 164.3 779.9 166.8C783.2 169.3 785.5 171.1 788.9 173.0C792.2 174.9 797.3 177.2 800.0 178.4C802.7 179.6 801.8 177.5 804.9 180.4C808.0 183.3 814.6 188.9 818.7 195.6C822.9 202.3 826.1 211.7 829.8 220.4C833.5 229.1 837.3 241.6 840.8 248.0C844.3 254.4 847.0 254.2 851.0 258.7C855.0 263.2 861.7 270.0 864.8 275.2C867.9 280.4 867.4 285.0 869.8 290.0C872.1 295.0 876.1 301.5 878.9 305.2C881.7 308.9 884.4 311.1 886.4 312.0C888.4 312.9 888.7 312.8 891.0 310.5C893.3 308.2 897.1 301.2 900.1 298.3C903.1 295.4 906.2 294.2 909.2 293.0C912.2 291.8 913.7 296.5 918.3 290.8C922.9 285.1 931.2 264.8 936.6 258.7C942.0 252.6 945.8 256.7 950.4 254.5C955.0 252.3 959.6 245.2 964.2 245.4C968.8 245.6 973.6 253.2 978.0 255.9C982.4 258.6 986.3 258.2 990.4 261.4C994.5 264.6 998.0 270.8 1002.8 275.2C1007.6 279.6 1013.4 284.2 1019.4 287.6C1025.4 291.1 1035.3 294.2 1038.7 295.9C1042.1 297.5 1038.1 296.4 1040.0 297.5C1041.9 298.6 1046.9 300.8 1049.9 302.4C1052.9 304.0 1055.7 305.3 1058.2 307.4C1060.7 309.5 1062.3 312.7 1064.8 314.8C1067.3 316.9 1070.3 317.3 1073.1 319.8C1075.9 322.3 1078.9 327.5 1081.4 329.7C1083.9 331.9 1085.8 331.3 1088.0 333.0C1090.2 334.7 1092.2 338.6 1094.6 339.7C1096.9 340.8 1099.6 338.8 1102.1 339.3C1104.6 339.9 1107.3 342.4 1109.5 343.0C1111.7 343.6 1113.1 342.2 1115.3 343.0C1117.5 343.8 1120.7 346.7 1122.8 347.9C1124.9 349.1 1125.5 348.5 1127.7 350.4C1129.9 352.3 1133.2 356.3 1136.0 359.5C1138.8 362.7 1141.3 366.6 1144.3 369.5C1147.3 372.4 1150.6 374.1 1154.2 376.9C1157.8 379.6 1161.5 382.2 1165.8 386.0C1170.1 389.8 1175.9 396.1 1180.0 399.7C1184.1 403.3 1187.3 405.4 1190.3 407.9C1193.3 410.4 1196.2 413.6 1197.9 414.8C1199.6 416.0 1199.1 413.9 1200.7 414.8C1202.3 415.7 1205.1 418.0 1207.6 420.3C1210.1 422.6 1212.9 425.2 1215.9 428.6C1218.9 432.1 1222.0 437.4 1225.5 441.0C1229.0 444.6 1234.1 448.0 1236.6 450.0C1239.1 452.0 1239.3 451.2 1240.7 452.8C1242.1 454.4 1243.4 458.7 1244.8 459.7C1246.2 460.7 1247.8 458.0 1249.0 459.0C1250.2 460.0 1250.5 464.8 1251.7 465.9C1252.9 467.0 1254.6 464.8 1255.9 465.9C1257.2 467.0 1258.2 471.6 1259.3 472.8C1260.4 474.1 1261.5 472.4 1262.8 473.4C1264.1 474.4 1265.7 477.5 1266.9 479.0C1268.1 480.5 1268.0 480.4 1270.0 482.3C1272.0 484.2 1276.3 487.7 1279.1 490.6C1281.9 493.5 1284.5 497.4 1286.7 499.7C1288.9 502.0 1289.5 501.9 1292.0 504.3C1294.5 506.7 1298.7 510.8 1301.9 514.1C1305.1 517.4 1308.7 521.6 1311.0 524.0C1313.3 526.4 1314.2 527.6 1315.5 528.6C1316.8 529.6 1317.3 528.9 1318.6 530.1C1319.9 531.4 1321.8 534.3 1323.1 536.1C1324.3 537.9 1325.1 539.8 1326.1 540.7C1327.1 541.6 1328.2 539.9 1329.2 541.5C1330.2 543.1 1331.2 549.6 1332.2 550.6C1333.2 551.6 1334.2 546.8 1335.3 547.5C1336.4 548.2 1338.0 554.0 1339.0 555.1C1340.0 556.2 1339.6 552.9 1341.3 554.4C1343.0 555.9 1346.4 561.2 1348.9 564.2C1351.4 567.2 1353.6 569.9 1356.5 572.6C1359.4 575.3 1363.8 578.1 1366.4 580.2C1369.0 582.3 1371.1 584.2 1372.0 585.0" stroke="#006800" stroke-width="2"/>
<path d="M383.5 252.6C386.5 251.1 392.9 247.6 401.5 243.5C410.1 239.4 425.0 232.6 435.2 227.8C445.4 223.0 453.6 218.5 462.8 214.5C472.0 210.5 479.8 207.4 490.4 204.0C501.0 200.6 515.3 196.2 526.3 193.8C537.3 191.4 546.0 190.6 556.6 189.7C567.2 188.8 579.2 188.9 589.8 188.6C600.4 188.3 611.7 187.9 620.1 187.8C628.5 187.7 633.7 187.8 640.0 187.8C646.3 187.8 652.5 187.4 657.9 187.8C663.3 188.2 667.5 188.8 672.3 190.1C677.1 191.4 681.8 193.4 686.6 195.5C691.4 197.6 696.8 200.1 701.0 202.6C705.2 205.1 708.1 207.5 711.7 210.7C715.3 213.8 718.9 218.2 722.5 221.5C726.1 224.8 730.0 228.0 733.3 230.4C736.6 232.8 738.6 233.9 742.2 235.8C745.8 237.8 750.3 240.3 754.8 242.1C759.3 243.9 764.3 245.4 769.1 246.6C773.9 247.8 779.6 248.2 783.5 249.3C787.4 250.4 789.9 251.1 792.5 252.9C795.1 254.8 795.0 255.9 799.4 260.4C803.8 264.9 814.1 274.8 818.7 279.7C823.4 284.6 823.8 286.8 827.3 290.0C830.8 293.2 835.1 296.1 839.4 299.1C843.7 302.1 848.3 305.2 853.1 308.2C857.9 311.2 863.2 314.4 868.2 317.3C873.2 320.2 878.6 322.6 883.4 325.6C888.2 328.6 893.3 332.5 897.1 335.5C900.9 338.5 902.9 340.6 906.2 343.8C909.5 347.0 913.5 351.8 916.8 354.5C920.1 357.2 922.6 358.6 926.0 360.2C929.4 361.8 933.9 361.6 937.2 364.0C940.5 366.4 943.9 372.4 946.0 374.9C948.1 377.4 948.1 376.5 950.0 379.0C951.9 381.5 953.0 384.9 957.1 389.8C961.2 394.7 969.9 404.1 974.4 408.4C978.9 412.7 979.8 411.9 984.4 415.8C989.0 419.7 996.3 427.6 1001.7 432.0C1007.1 436.4 1012.5 438.2 1016.6 441.9C1020.8 445.6 1023.7 450.0 1026.6 454.3C1029.5 458.6 1029.0 461.7 1034.0 467.9C1039.0 474.1 1050.1 486.5 1056.3 491.5C1062.5 496.5 1067.1 495.0 1071.2 497.7C1075.3 500.4 1077.1 502.2 1081.1 507.6C1085.1 513.1 1090.8 524.5 1095.4 530.4C1100.1 536.3 1105.5 541.1 1109.0 543.2C1112.5 545.3 1114.5 542.1 1116.7 543.2C1119.0 544.3 1119.9 545.7 1122.5 549.7C1125.1 553.7 1128.6 562.0 1132.1 567.1C1135.6 572.2 1140.5 578.4 1143.7 580.6C1146.9 582.9 1149.2 579.6 1151.4 580.6C1153.7 581.6 1155.5 583.6 1157.2 586.4C1159.0 589.2 1160.0 592.8 1161.9 597.2C1163.8 601.6 1166.2 610.7 1168.8 613.0C1171.4 615.3 1174.8 609.3 1177.5 611.0C1180.2 612.7 1181.8 617.9 1184.7 623.0C1187.6 628.1 1191.9 639.4 1194.8 641.8C1197.7 644.2 1199.4 635.8 1202.0 637.5C1204.6 639.2 1208.7 647.5 1210.6 651.9C1212.5 656.3 1211.8 662.8 1213.5 664.0C1215.2 665.2 1218.9 658.4 1220.7 659.1C1222.5 659.8 1223.9 666.5 1224.5 668.0" stroke="#0000c0" stroke-width="2"/>
<path d="M688.5 667.0C689.9 662.0 694.0 646.0 696.9 636.8C699.8 627.6 702.8 619.8 705.8 611.7C708.8 603.6 711.9 596.5 714.8 588.4C717.7 580.3 720.3 571.4 723.4 563.3C726.5 555.2 731.1 545.9 733.6 540.0C736.1 534.1 734.6 535.9 738.6 528.1C742.6 520.3 753.1 501.8 757.9 493.4C762.7 485.0 764.4 483.9 767.6 477.9C770.8 471.9 773.7 464.7 777.2 457.3C780.7 449.9 785.2 439.7 788.8 433.5C792.3 427.3 794.2 425.7 798.5 420.0C802.8 414.3 809.6 405.9 814.4 399.2C819.2 392.4 823.1 384.8 827.3 379.5C831.5 374.2 836.4 369.7 839.4 367.3C842.4 364.9 842.0 365.2 845.5 365.1C849.0 365.0 856.9 368.0 860.7 366.6C864.5 365.2 865.4 360.6 868.2 356.7C871.0 352.8 874.5 346.2 877.3 343.1C880.1 340.0 881.6 338.9 884.9 338.2C888.2 337.5 893.5 341.0 897.1 338.8C900.7 336.6 903.4 329.2 906.2 324.9C909.0 320.5 911.2 315.1 913.7 312.7C916.2 310.3 919.3 310.8 921.3 310.5C923.3 310.2 924.1 313.1 925.9 311.2C927.7 309.3 930.5 302.6 931.9 299.1C933.3 295.6 933.4 292.4 934.2 290.0C935.0 287.6 934.8 289.9 936.6 284.9C938.4 279.9 941.7 265.8 944.9 260.0C948.1 254.2 952.2 255.5 955.9 250.4C959.6 245.3 963.3 233.2 967.0 229.7C970.7 226.1 973.9 232.5 978.0 229.1C982.1 225.7 988.1 210.5 991.8 209.0C995.5 207.5 997.1 218.0 1000.1 220.0C1003.1 222.0 1006.2 215.5 1009.7 220.8C1013.2 226.1 1017.3 245.7 1020.8 251.8C1024.2 257.9 1027.4 251.8 1030.4 257.3C1033.4 262.8 1036.2 281.2 1038.7 284.9C1041.2 288.6 1043.1 277.1 1045.6 279.4C1048.1 281.7 1051.4 297.5 1053.9 298.7C1056.4 299.9 1058.5 287.9 1060.8 286.3C1063.1 284.7 1064.9 294.8 1067.7 289.0C1070.5 283.2 1074.9 258.2 1077.4 251.8C1079.9 245.4 1080.8 254.1 1082.9 250.4C1085.0 246.7 1087.8 232.0 1089.8 229.7C1091.8 227.3 1092.8 236.9 1094.7 236.3C1096.6 235.8 1099.0 225.9 1101.1 226.4C1103.2 226.9 1105.5 238.2 1107.4 239.5C1109.3 240.8 1110.7 231.8 1112.6 234.2C1114.5 236.6 1117.2 251.6 1119.0 254.2C1120.8 256.8 1121.5 248.1 1123.2 250.0C1124.9 251.9 1127.0 265.1 1128.9 265.8C1130.8 266.5 1133.1 255.9 1134.8 254.2C1136.5 252.4 1137.4 259.3 1139.0 255.3C1140.6 251.3 1142.6 234.9 1144.2 230.0C1145.8 225.1 1146.8 230.0 1148.4 225.8C1150.0 221.6 1152.1 208.2 1153.7 204.8C1155.3 201.4 1156.3 207.2 1157.9 205.4C1159.5 203.6 1161.6 194.8 1163.2 194.2C1164.8 193.6 1166.0 200.9 1167.4 201.6C1168.8 202.3 1170.2 196.7 1171.6 198.4C1173.0 200.2 1174.4 209.5 1175.8 212.1C1177.2 214.7 1178.6 210.6 1180.0 213.8C1181.4 217.0 1183.1 228.2 1184.3 231.1C1185.5 234.0 1186.2 229.0 1187.4 231.1C1188.6 233.2 1190.2 242.7 1191.6 243.7C1193.0 244.7 1194.4 237.7 1195.8 237.0C1197.2 236.3 1198.9 241.4 1200.1 239.5C1201.3 237.6 1202.2 228.0 1203.2 225.8C1204.2 223.6 1205.2 228.1 1206.4 226.4C1207.6 224.8 1209.4 216.9 1210.6 215.9C1211.8 214.9 1212.7 220.3 1213.7 220.5C1214.8 220.7 1215.7 215.6 1216.9 216.8C1218.1 218.0 1219.7 225.5 1221.1 227.9C1222.5 230.3 1223.5 227.2 1225.3 231.1C1227.0 235.0 1229.8 248.1 1231.6 251.1C1233.4 254.1 1234.7 248.8 1235.9 249.0C1237.1 249.2 1237.8 253.5 1239.0 252.1C1240.2 250.7 1241.6 244.6 1243.2 240.6C1244.8 236.6 1246.9 231.2 1248.5 227.9C1250.1 224.6 1251.0 221.9 1252.7 220.5C1254.5 219.1 1257.4 219.0 1259.0 219.5C1260.6 220.0 1261.0 222.2 1262.2 223.7C1263.4 225.2 1264.8 227.0 1266.4 228.6C1268.0 230.2 1270.0 233.1 1271.7 233.2C1273.5 233.3 1275.2 230.6 1276.9 229.0C1278.7 227.4 1280.8 225.2 1282.2 223.7C1283.6 222.2 1283.9 220.9 1285.3 220.1C1286.7 219.3 1288.7 217.8 1290.6 218.9C1292.5 220.0 1295.0 224.4 1296.9 226.9C1298.8 229.4 1300.6 232.8 1302.2 234.2C1303.8 235.6 1304.5 235.8 1306.4 235.3C1308.3 234.8 1311.5 231.7 1313.8 231.1C1316.1 230.5 1317.3 231.2 1320.1 231.5C1322.9 231.8 1326.6 233.2 1330.6 233.2C1334.6 233.2 1340.8 231.3 1344.3 231.5C1347.8 231.7 1347.9 233.8 1351.7 234.2C1355.5 234.6 1364.5 234.2 1367.0 234.2" stroke="#e01010" stroke-width="2"/>
</g>
<rect x="1169" y="68" width="151" height="93" fill="#fff"/>
<path d="M1175 77H1204" stroke="#e00000" stroke-width="2.2" shape-rendering="crispEdges"/>
<text x="1206" y="79.0" font-family="Liberation Sans" font-size="11">T34A-4</text>
<path d="M1175 92H1204" stroke="#006800" stroke-width="2.2" shape-rendering="crispEdges"/>
<text x="1206" y="94.1" font-family="Liberation Sans" font-size="11">8NMB420</text>
<path d="M1175 107H1204" stroke="#0000c0" stroke-width="2.2" shape-rendering="crispEdges"/>
<text x="1206" y="109.2" font-family="Liberation Sans" font-size="11">Faital 18FH500_8O</text>
<path d="M1175 122.5H1204" stroke="#a82020" stroke-width="1" shape-rendering="crispEdges"/>
<text x="1206" y="124.3" font-family="Liberation Sans" font-size="11">T34A-4 (w/o baffle)</text>
<path d="M1175 137.5H1204" stroke="#1c6c1c" stroke-width="1" shape-rendering="crispEdges"/>
<text x="1206" y="139.4" font-family="Liberation Sans" font-size="11">8NMB420 (w/o baffle)</text>
<path d="M1175 152.5H1204" stroke="#1818a0" stroke-width="1" shape-rendering="crispEdges"/>
<text x="1206" y="154.5" font-family="Liberation Sans" font-size="11">18FH500 (w/o baffle)</text>
<rect x="1320" y="68" width="46" height="13" fill="#fff"/><text x="1322" y="80" font-family="Liberation Sans" font-size="13" fill="#c4c4c4" letter-spacing="0.6">Basta!</text>
<path d="M378 67.5H1367M383.5 67.5V665" stroke="#000" stroke-width="1" shape-rendering="crispEdges"/>
<rect x="383.5" y="664" width="986.5" height="3" fill="#000"/>
<rect x="1366" y="67.5" width="3" height="599.5" fill="#000"/>
</svg>
<!-- /RIGHTPLOT -->
</body></html>
